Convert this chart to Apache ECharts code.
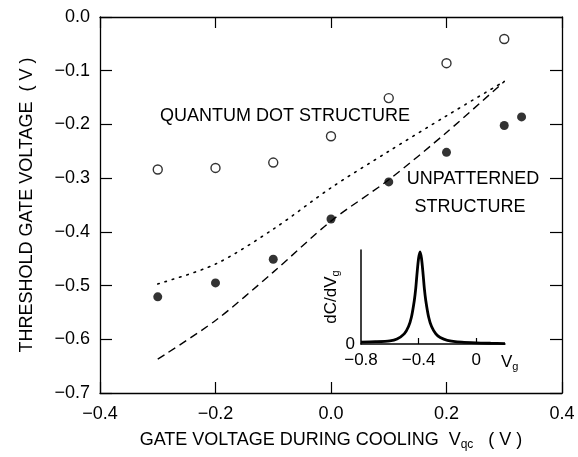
<!DOCTYPE html>
<html>
<head>
<meta charset="UTF-8">
<title>threshold gate voltage</title>
<script src="https://cdn.jsdelivr.net/npm/echarts@6.0.0/dist/echarts.min.js"></script>
<style>
  html, body { margin: 0; padding: 0; background: #fff; }
  #chart { width: 578px; height: 457px; }
</style>
</head>
<body>
<div id="chart"></div>
<script>
// quantum dot structure (open circles)
const qdX = [-0.3, -0.2, -0.1, 0.0, 0.1, 0.2, 0.3];
const qdY = [-0.284, -0.281, -0.271, -0.222, -0.151, -0.086, -0.041];
// unpatterned structure (filled circles)
const unpX = [-0.3, -0.2, -0.1, 0.0, 0.1, 0.2, 0.3, 0.33];
const unpY = [-0.521, -0.495, -0.451, -0.376, -0.307, -0.252, -0.202, -0.186];
// dotted and dashed curves
const curveX = [-0.3, -0.2, -0.1, 0.0, 0.1, 0.2, 0.3];
const dotY = [-0.497, -0.46, -0.395, -0.318, -0.25, -0.184, -0.12];
const dashY = [-0.637, -0.565, -0.475, -0.38, -0.303, -0.215, -0.12];
// inset dC/dVg trace (relative height)
const insetX = [-0.8, -0.7, -0.6, -0.55, -0.5, -0.47, -0.45, -0.43, -0.42, -0.41, -0.4, -0.39,
  -0.38, -0.37, -0.36, -0.35, -0.33, -0.31, -0.28, -0.25, -0.2, -0.1, 0.0, 0.1, 0.2];
const insetY = [0.02, 0.025, 0.035, 0.055, 0.11, 0.19, 0.29, 0.47, 0.6, 0.78, 0.93, 1.0,
  0.93, 0.78, 0.6, 0.47, 0.29, 0.19, 0.11, 0.07, 0.04, 0.02, 0.012, 0.008, 0.005];

const FONT = "'Liberation Sans', Arial, sans-serif";
const zip = (xs, ys) => xs.map((x, i) => [x, ys[i]]);
const fmt = v => (Math.abs(v) < 1e-9 ? '0.0' : v.toFixed(1).replace('-', '\u2212'));

const chart = echarts.init(document.getElementById('chart'), null, { renderer: 'canvas' });

const axisLine = { show: true, onZero: false, lineStyle: { color: '#000', width: 1.3 } };
const tick = len => ({ show: true, inside: true, length: len, lineStyle: { color: '#000', width: 1.2 } });

chart.setOption({
  animation: false,
  grid: [
    { left: 100, right: 16, top: 17, bottom: 64 },
    { left: 361, top: 250, width: 144, height: 94 }
  ],
  xAxis: [
    {
      gridIndex: 0, type: 'value', min: -0.4, max: 0.4, interval: 0.2, position: 'bottom',
      axisLine, axisTick: tick(11), splitLine: { show: false },
      axisLabel: { color: '#000', fontFamily: FONT, fontSize: 18, margin: 12, formatter: fmt },
      name: 'GATE VOLTAGE DURING COOLING  {v|V}{s|qc}   ( V )',
      nameLocation: 'middle', nameGap: 36,
      nameTextStyle: {
        color: '#000', fontFamily: FONT, fontSize: 18,
        rich: {
          v: { fontFamily: FONT, fontSize: 18, color: '#000' },
          s: { fontFamily: FONT, fontSize: 12, color: '#000', padding: [10, 0, 0, 0] }
        }
      }
    },
    {
      gridIndex: 0, type: 'value', min: -0.4, max: 0.4, interval: 0.2, position: 'top',
      axisLine, axisTick: tick(11), axisLabel: { show: false }, splitLine: { show: false }
    },
    {
      gridIndex: 1, type: 'value', min: -0.8, max: 0.2, interval: 0.4,
      axisLine: { show: true, onZero: false, lineStyle: { color: '#000', width: 1.5 } },
      axisTick: { show: true, inside: true, length: 6, customValues: [-0.4, 0],
        lineStyle: { color: '#000', width: 1.2 } },
      axisLabel: { color: '#000', fontFamily: FONT, fontSize: 17, margin: 8,
        customValues: [-0.8, -0.4, 0],
        formatter: v => (Math.abs(v) < 1e-9 ? '0' : v.toFixed(1).replace('-', '\u2212')) },
      splitLine: { show: false }
    }
  ],
  yAxis: [
    {
      gridIndex: 0, type: 'value', min: -0.7, max: 0.0, interval: 0.1, position: 'left',
      axisLine, axisTick: tick(12), splitLine: { show: false },
      axisLabel: { color: '#000', fontFamily: FONT, fontSize: 18, margin: 10, formatter: fmt },
      name: 'THRESHOLD GATE VOLTAGE  ( V )',
      nameLocation: 'middle', nameRotate: 90, nameGap: 64,
      nameTextStyle: { color: '#000', fontFamily: FONT, fontSize: 18 }
    },
    {
      gridIndex: 0, type: 'value', min: -0.7, max: 0.0, interval: 0.1, position: 'right',
      axisLine, axisTick: tick(12), axisLabel: { show: false }, splitLine: { show: false }
    },
    {
      gridIndex: 1, type: 'value', min: 0, max: 1.02,
      axisLine: { show: true, onZero: false, lineStyle: { color: '#000', width: 1.5 } },
      axisTick: { show: false }, splitLine: { show: false },
      axisLabel: { color: '#000', fontFamily: FONT, fontSize: 17, margin: 6,
        customValues: [0], formatter: () => '0' },
      name: '{a|dC/dV}{s|g}',
      nameLocation: 'middle', nameRotate: 90, nameGap: 8,
      nameTextStyle: {
        color: '#000', fontFamily: FONT, fontSize: 17,
        rich: {
          a: { fontFamily: FONT, fontSize: 17, color: '#000' },
          s: { fontFamily: FONT, fontSize: 11, color: '#000', padding: [9, 0, 0, 0] }
        }
      }
    }
  ],
  series: [
    {
      name: 'dotted', type: 'line', xAxisIndex: 0, yAxisIndex: 0, data: zip(curveX, dotY),
      smooth: 0.3, showSymbol: false, symbol: 'none',
      lineStyle: { color: '#000', width: 1.6, type: [1.6, 6], cap: 'round' }, z: 2
    },
    {
      name: 'dashed', type: 'line', xAxisIndex: 0, yAxisIndex: 0, data: zip(curveX, dashY),
      smooth: 0.3, showSymbol: false, symbol: 'none',
      lineStyle: { color: '#000', width: 1.4, type: [8, 5] }, z: 2
    },
    {
      name: 'quantum dot', type: 'scatter', xAxisIndex: 0, yAxisIndex: 0, data: zip(qdX, qdY),
      symbol: 'circle', symbolSize: 9,
      itemStyle: { color: '#fff', borderColor: '#000', borderWidth: 1.4 }, z: 3
    },
    {
      name: 'unpatterned', type: 'scatter', xAxisIndex: 0, yAxisIndex: 0, data: zip(unpX, unpY),
      symbol: 'circle', symbolSize: 9,
      itemStyle: { color: '#000' }, z: 3
    },
    {
      name: 'inset', type: 'line', xAxisIndex: 2, yAxisIndex: 2, data: zip(insetX, insetY),
      smooth: 0.25, showSymbol: false, symbol: 'none',
      lineStyle: { color: '#000', width: 2.8 }, z: 4
    }
  ],
  graphic: [
    { type: 'text', left: 160, top: 107,
      style: { text: 'QUANTUM DOT STRUCTURE', fontFamily: FONT, fontSize: 18, fill: '#000' } },
    { type: 'text', x: 473, y: 179,
      style: { text: 'UNPATTERNED', fontFamily: FONT, fontSize: 18, fill: '#000',
        align: 'center', verticalAlign: 'middle' } },
    { type: 'text', x: 470, y: 207,
      style: { text: 'STRUCTURE', fontFamily: FONT, fontSize: 18, fill: '#000',
        align: 'center', verticalAlign: 'middle' } },
    { type: 'text', x: 501, y: 352,
      style: { text: '{a|V}{s|g}', fontFamily: FONT, fontSize: 17, fill: '#000',
        rich: {
          a: { fontFamily: FONT, fontSize: 17, fill: '#000' },
          s: { fontFamily: FONT, fontSize: 11, fill: '#000', padding: [9, 0, 0, 0] }
        } } }
  ]
});
</script>
</body>
</html>
